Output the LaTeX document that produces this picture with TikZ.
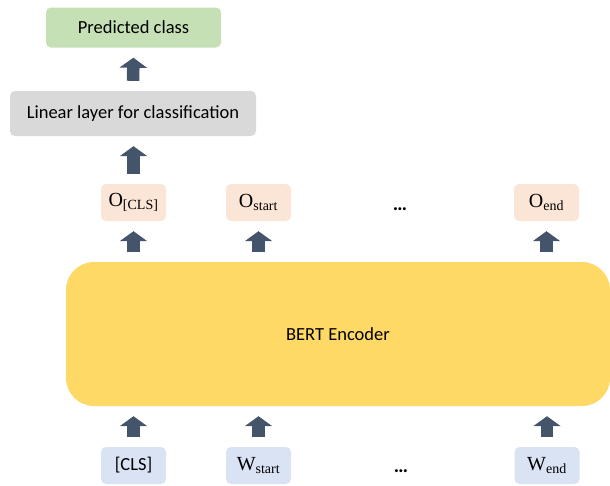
\documentclass[tikz,border=0pt]{standalone}
\usepackage{fontspec}
\setmainfont{Carlito}
\newfontfamily\oserif{Liberation Serif}
\usepackage{tikz}
\usetikzlibrary{arrows.meta,positioning}
\definecolor{predgreen}{HTML}{C5E0B4}
\definecolor{lingray}{HTML}{D9D9D9}
\definecolor{outpeach}{HTML}{FBE5D6}
\definecolor{encyellow}{HTML}{FFD966}
\definecolor{inblue}{HTML}{DAE3F3}
\definecolor{arrowslate}{HTML}{44546A}
\tikzset{
  boxstyle/.style={rounded corners=5pt, inner sep=0pt, font=\fontsize{18.5}{22}\selectfont},
  tokbox/.style={boxstyle, minimum width=65pt, minimum height=37pt},
  symbox/.style={tokbox, font=\oserif\fontsize{20}{24}\selectfont},
  blockarrow/.style={draw=arrowslate, line width=12.5pt,
    -{Triangle[length=10pt,width=27pt,fill=arrowslate]},
    shorten <=10pt, shorten >=10pt},
  dotsnode/.style={font=\bfseries\fontsize{20}{24}\selectfont}
}

\begin{document}
\begin{tikzpicture}[x=1pt,y=-1pt]
	\useasboundingbox (0,0) rectangle (610,485);

	\node [boxstyle, fill=predgreen, minimum width=175pt, minimum height=40pt] (pred) at (133.5, 27.5) {Predicted class};
	\node [boxstyle, fill=lingray, minimum width=246pt, minimum height=45pt] (lin) at (133, 113.5) {Linear layer for classification};

	\node [symbox, fill=outpeach] (ocls) at (133.5, 202.5) {O\textsubscript{[CLS]}};
	\node [symbox, fill=outpeach] (ostart) at (258.5, 202.5) {O\textsubscript{start}};
	\node [dotsnode] (odots) at (400, 209) {\dots};
	\node [symbox, fill=outpeach] (oend) at (546.5, 202.5) {O\textsubscript{end}};

	\node [boxstyle, rounded corners=28pt, fill=encyellow, minimum width=544pt, minimum height=144pt] (enc) at (338, 334) {BERT Encoder};

	\node [tokbox, fill=inblue] (icls) at (133.5, 465.5) {[CLS]};
	\node [symbox, fill=inblue] (istart) at (258.5, 465.5) {W\textsubscript{start}};
	\node [dotsnode] (idots) at (401, 471) {\dots};
	\node [symbox, fill=inblue] (iend) at (547, 465.5) {W\textsubscript{end}};

	\draw [blockarrow] (lin.north) -- (pred.south);
	\draw [blockarrow] (ocls.north) -- (ocls.north |- lin.south);
	\draw [blockarrow] (ocls.north |- enc.north) -- (ocls.south);
	\draw [blockarrow] (ostart.north |- enc.north) -- (ostart.south);
	\draw [blockarrow] (oend.north |- enc.north) -- (oend.south);
	\draw [blockarrow] (icls.north) -- (icls.north |- enc.south);
	\draw [blockarrow] (istart.north) -- (istart.north |- enc.south);
	\draw [blockarrow] (iend.north) -- (iend.north |- enc.south);
\end{tikzpicture}
\end{document}
